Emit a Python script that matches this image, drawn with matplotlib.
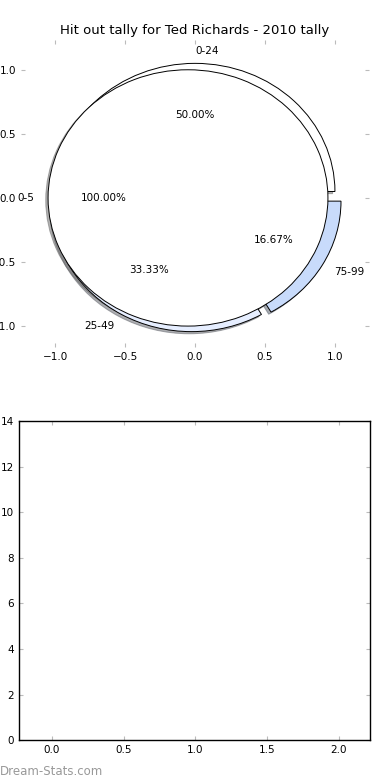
import numpy as np
import matplotlib
matplotlib.use('Agg')
from matplotlib import pyplot as plt

# hit out tally buckets
labels = ['0-24', '25-49', '75-99']
counts = [3, 2, 1]
colors = ['#ffffff', '#e6eeff', '#c8dbfb']
# the odd full-circle bucket
full_label = ['0-5']
full_count = [1]

title = 'Hit out tally for Ted Richards - 2010 tally'
pie_ticks = [-1.0, -0.5, 0.0, 0.5, 1.0]
bar_xticks = [0.0, 0.5, 1.0, 1.5, 2.0]
bar_yticks = [0, 2, 4, 6, 8, 10, 12, 14]

fig = plt.figure(figsize=(3.9, 7.8), dpi=100)

ax1 = fig.add_axes([0.054, 0.555, 0.892, 0.394])
wedge_props = dict(linewidth=0.7, edgecolor='black')
txt_props = dict(fontsize=7.5)
shad = dict(ox=-0.012, oy=-0.012, shade=0.6)
w, t, p = ax1.pie(counts, labels=labels, colors=colors, explode=[0.05]*len(counts),
                  autopct='%.2f%%', shadow=shad, wedgeprops=wedge_props,
                  textprops=txt_props, frame=True)
t[0].set_ha('left')  # old matplotlib put the top label to the right of centre
ax1.pie(full_count, labels=full_label, colors=['#ffffff'], explode=[0.05],
        autopct='%.2f%%', shadow=shad, wedgeprops=wedge_props, textprops=txt_props,
        frame=True)
ax1.set_aspect('auto')
ax1.set_xlim(-1.243, 1.243)
ax1.set_ylim(-1.164, 1.234)
ax1.set_xticks(pie_ticks)
ax1.set_yticks(pie_ticks)
for s in ax1.spines.values():
    s.set_visible(False)
ax1.tick_params(direction='in', length=3, color='#bbbbbb', labelsize=7.5,
                top=True, right=True)
ax1.set_title(title, fontsize=9.5, pad=4)

ax2 = fig.add_axes([0.049, 0.051, 0.9, 0.409])
ax2.set_xlim(-0.23, 2.22)
ax2.set_ylim(0, 14)
ax2.set_xticks(bar_xticks)
ax2.set_yticks(bar_yticks)
ax2.tick_params(direction='in', length=3, color='#bbbbbb', labelsize=7.5,
                top=True, right=True)
for s in ax2.spines.values():
    s.set_linewidth(1.0)

fig.text(0.0, 0.003, 'Dream-Stats.com', fontsize=8.5, color='#999999',
         ha='left', va='bottom')

fig.savefig('out.png', dpi=100)
